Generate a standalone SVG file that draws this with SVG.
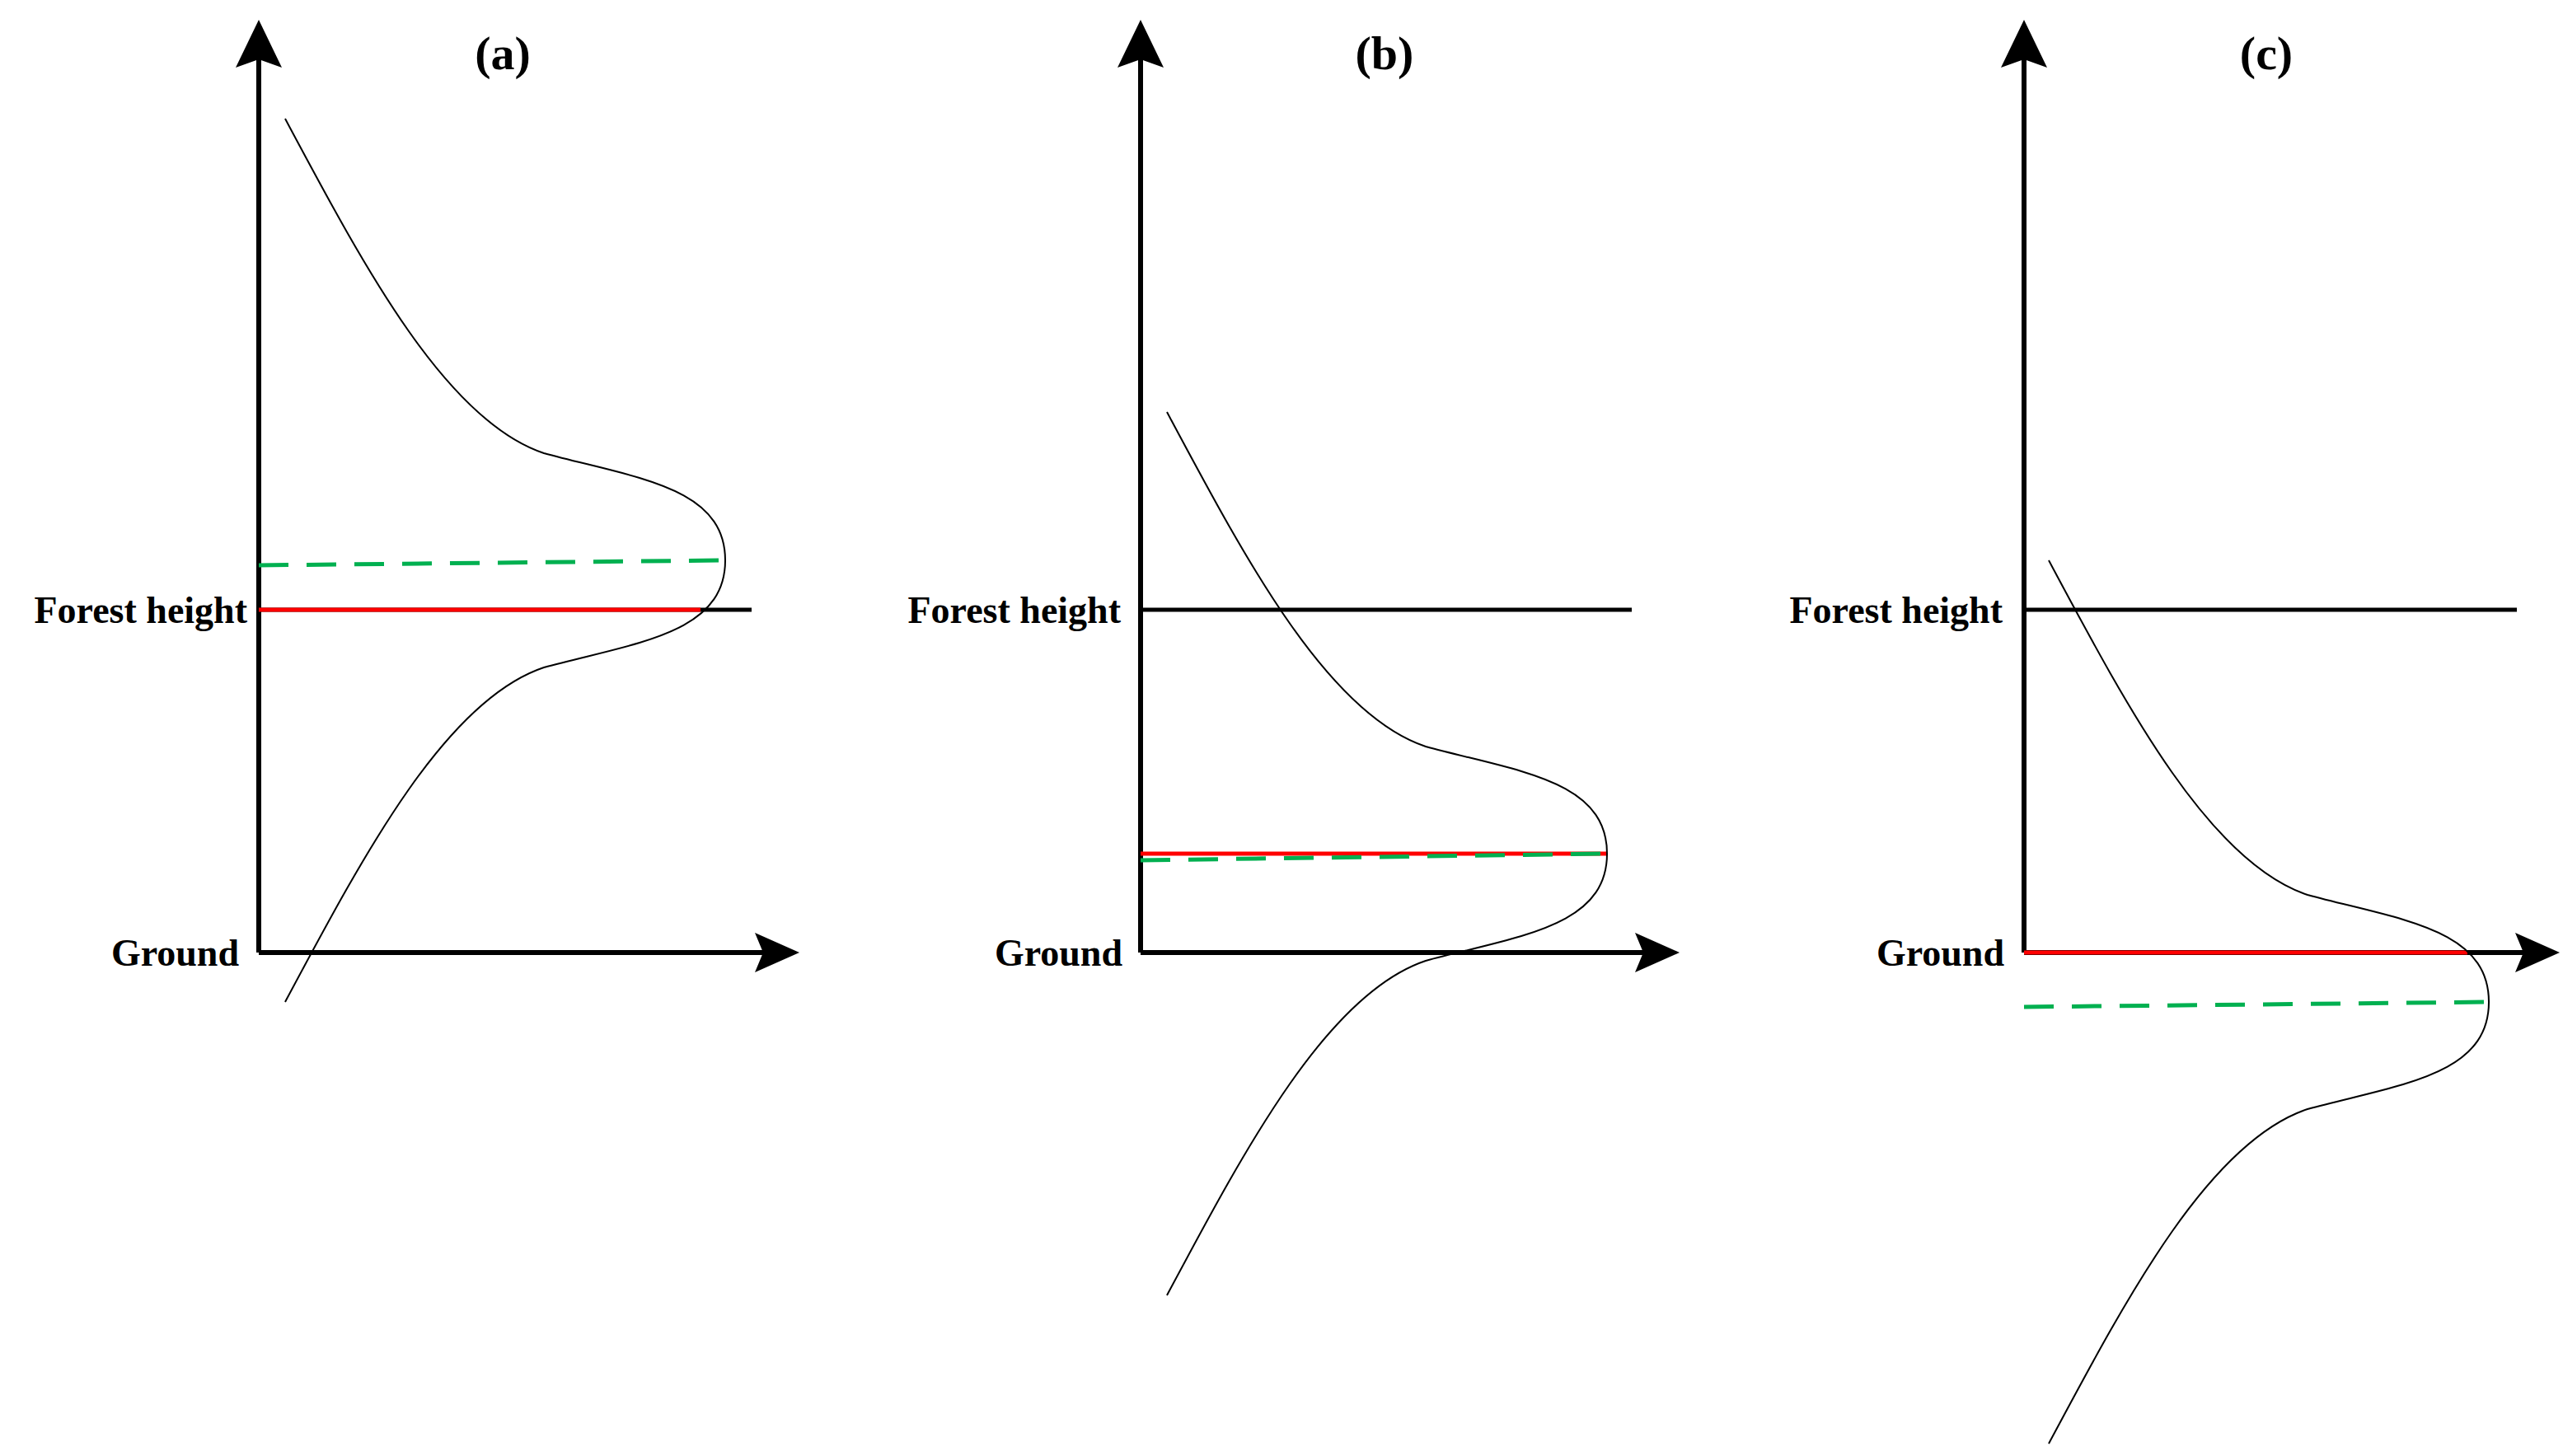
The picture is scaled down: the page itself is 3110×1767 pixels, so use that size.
<svg xmlns="http://www.w3.org/2000/svg" width="3110" height="1767" viewBox="0 0 3110 1767">
<style>
.ax{stroke:#000;stroke-width:6;fill:none}
.fh{stroke:#000;stroke-width:5;fill:none}
.red{stroke:#ff0000;stroke-width:5;fill:none}
.grn{stroke:#00b050;stroke-width:5;fill:none;stroke-dasharray:36 22}
.cv{stroke:#000;stroke-width:2;fill:none}
.t{font-family:"Liberation Serif",serif;font-weight:bold;fill:#000}
.lab{font-size:46px;text-anchor:end}
.ttl{font-size:58px;text-anchor:middle}
</style>
<defs>
<path id="curve" d="M -534,-536 C -440,-360 -340,-170 -220,-130 C -110,-100 0,-90 0,0 C 0,90 -110,100 -220,130 C -340,170 -440,360 -534,536"/>
</defs>
<g id="connectors">
<!-- panel a -->
<path class="ax" d="M314,1156 V70 M314,1156 H930"/>
<polygon points="314,24 286,82 314,72 342,82"/>
<polygon points="970,1156 916,1132 926,1156 916,1180"/>
<line class="fh" x1="314" y1="740" x2="912" y2="740"/>
<line class="red" x1="314" y1="740" x2="850" y2="740"/>
<line class="grn" x1="314" y1="686" x2="880" y2="680"/>
<use href="#curve" class="cv" transform="translate(880,680)"/>
<!-- panel b -->
<path class="ax" d="M1384,1156 V70 M1384,1156 H2000"/>
<polygon points="1384,24 1356,82 1384,72 1412,82"/>
<polygon points="2038,1156 1984,1132 1994,1156 1984,1180"/>
<line class="fh" x1="1384" y1="740" x2="1980" y2="740"/>
<line class="red" x1="1384" y1="1036" x2="1950" y2="1036"/>
<line class="grn" x1="1384" y1="1044" x2="1950" y2="1036"/>
<use href="#curve" class="cv" transform="translate(1950,1036)"/>
<!-- panel c -->
<path class="ax" d="M2456,1156 V70 M2456,1156 H3070"/>
<polygon points="2456,24 2428,82 2456,72 2484,82"/>
<polygon points="3106,1156 3052,1132 3062,1156 3052,1180"/>
<line class="fh" x1="2456" y1="740" x2="3054" y2="740"/>
<line class="red" x1="2456" y1="1156" x2="2994" y2="1156"/>
<line class="grn" x1="2456" y1="1222" x2="3020" y2="1216"/>
<use href="#curve" class="cv" transform="translate(3020,1216)"/>
</g>
<g id="panel-a">
<text class="t ttl" x="610" y="84">(a)</text>
<text class="t lab" x="300" y="756">Forest height</text>
<text class="t lab" x="290" y="1172">Ground</text>
</g>
<g id="panel-b">
<text class="t ttl" x="1680" y="84">(b)</text>
<text class="t lab" x="1360" y="756">Forest height</text>
<text class="t lab" x="1362" y="1172">Ground</text>
</g>
<g id="panel-c">
<text class="t ttl" x="2750" y="84">(c)</text>
<text class="t lab" x="2430" y="756">Forest height</text>
<text class="t lab" x="2432" y="1172">Ground</text>
</g>
</svg>
